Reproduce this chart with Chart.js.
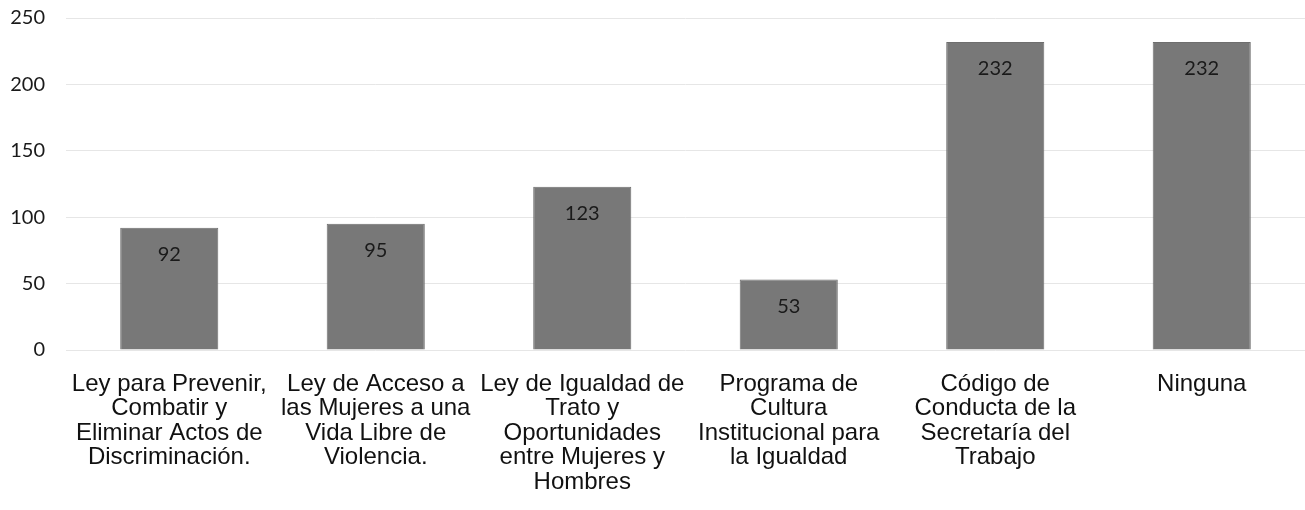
<!DOCTYPE html>
<html>
<head>
<meta charset="utf-8">
<script src="https://cdn.jsdelivr.net/npm/chart.js@4/dist/chart.umd.min.js"></script>
<style>
  html, body { margin: 0; padding: 0; background: #fff; }
  #wrap { width: 1305px; height: 510px; }
</style>
</head>
<body>
<div id="wrap"><canvas id="chart" width="1305" height="510"></canvas></div>
<script>
// categories (multi-line, as in the original)
const categories = [
  ['Ley para Prevenir,', 'Combatir y', 'Eliminar Actos de', 'Discriminación.'],
  ['Ley de Acceso a', 'las Mujeres a una', 'Vida Libre de', 'Violencia.'],
  ['Ley de Igualdad de', 'Trato y', 'Oportunidades', 'entre Mujeres y', 'Hombres'],
  ['Programa de', 'Cultura', 'Institucional para', 'la Igualdad'],
  ['Código de', 'Conducta de la', 'Secretaría del', 'Trabajo'],
  ['Ninguna']
];
const counts = [92, 95, 123, 53, 232, 232];
const yTicks = [0, 50, 100, 150, 200, 250];

// value labels inside the top of each bar
const barLabels = {
  id: 'barLabels',
  afterDatasetsDraw(chart) {
    const ctx = chart.ctx;
    const meta = chart.getDatasetMeta(0);
    ctx.save();
    ctx.font = '20px Lato';
    ctx.fillStyle = '#1a1a1a';
    ctx.textAlign = 'center';
    ctx.textBaseline = 'middle';
    meta.data.forEach((bar, i) => {
      ctx.fillText(String(counts[i]), bar.x, bar.y + 27);
    });
    ctx.restore();
  }
};

const ctx = document.getElementById('chart').getContext('2d');
new Chart(ctx, {
  type: 'bar',
  data: {
    labels: categories,
    datasets: [{
      data: counts,
      backgroundColor: '#787878',
      borderColor: '#6e6e6e',
      borderWidth: 1,
      barPercentage: 0.475,
      categoryPercentage: 1
    }]
  },
  options: {
    responsive: false,
    animation: false,
    layout: { padding: { top: 18, right: 0, left: 0, bottom: 0 } },
    plugins: {
      legend: { display: false },
      tooltip: { enabled: false }
    },
    scales: {
      x: {
        grid: { display: false },
        border: { display: false },
        ticks: {
          color: '#111',
          font: { family: 'Liberation Sans', size: 24, lineHeight: 1.02 },
          padding: 14,
          maxRotation: 0,
          autoSkip: false
        },
        afterFit(scale) {
          scale.height = 160;
          scale.paddingLeft = 0;
          scale.paddingRight = 0;
        }
      },
      y: {
        min: 0,
        max: 250,
        afterBuildTicks(scale) { scale.ticks = yTicks.map(v => ({ value: v })); },
        grid: { color: '#e6e6e6', drawTicks: false },
        border: { display: false },
        ticks: {
          color: '#1a1a1a',
          font: { family: 'Lato', size: 20 },
          padding: 21
        },
        afterFit(scale) {
          scale.width = 66;
          scale.paddingTop = 0;
          scale.paddingBottom = 0;
        }
      }
    }
  },
  plugins: [barLabels]
});
</script>
</body>
</html>
